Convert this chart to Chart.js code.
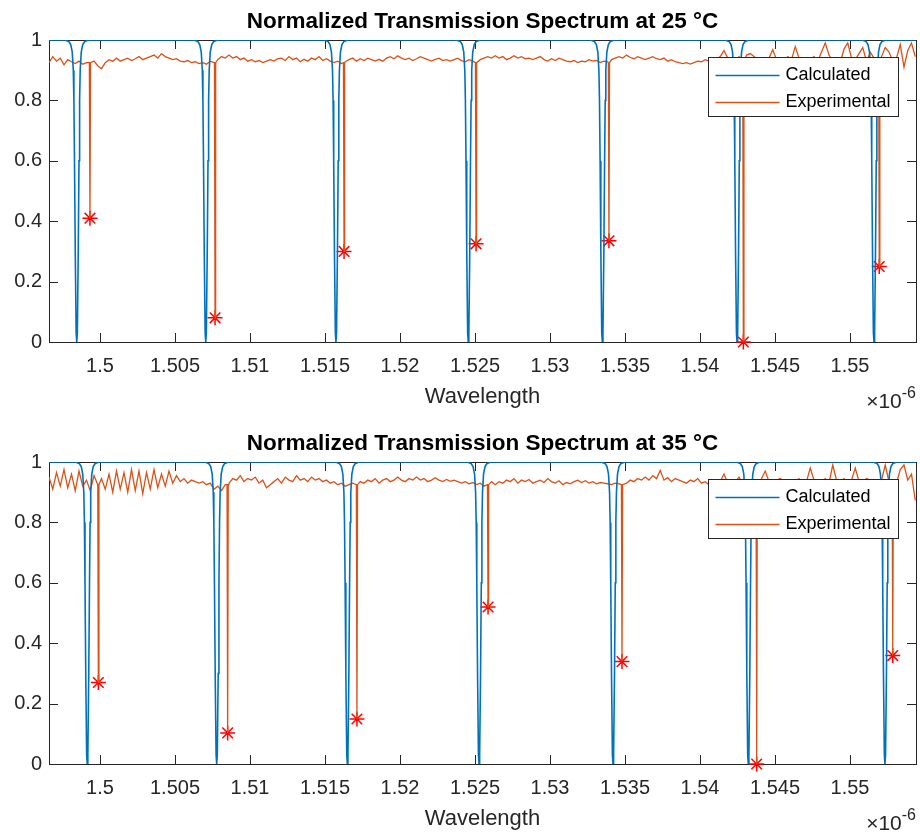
<!DOCTYPE html>
<html>
<head>
<meta charset="utf-8">
<script src="https://cdn.jsdelivr.net/npm/chart.js@4.4.1/dist/chart.umd.min.js"></script>
<style>
  html, body { margin: 0; padding: 0; background: #fff; overflow: hidden; }
  .panel { position: absolute; left: 0; width: 920px; height: 420px; }
</style>
</head>
<body>
<div class="panel" style="top:0"><canvas id="c25" width="920" height="420"></canvas></div>
<div class="panel" style="top:422px"><canvas id="c35" width="920" height="420"></canvas></div>
<script>
// WAVELENGTH AXIS (values in units of 1e-6 m)
let wlMin = 1.4966;
let wlMax = 1.5544;
let wlStep = 0.00025; // sampling step of the measured spectra
let xTicks = [1.5, 1.505, 1.51, 1.515, 1.52, 1.525, 1.53, 1.535, 1.54, 1.545, 1.55];
let yTicks = [0, 0.2, 0.4, 0.6, 0.8, 1];

// calculated resonance shape: offset from dip centre and transmission
let profileOffset = [-0.0008, -0.00053, -0.0004, -0.0003, -0.00023, -0.00019, -0.00015, -0.0001, -0.00004, 0,
    0.00004, 0.0001, 0.00015, 0.00019, 0.00023, 0.0003, 0.0004, 0.00053, 0.0008];
let profileValue = [1, 0.995, 0.985, 0.96, 0.9, 0.8, 0.6, 0.3, 0.03, 0,
    0.03, 0.3, 0.6, 0.8, 0.9, 0.96, 0.985, 0.995, 1];
let dipShoulder = 0.925;

// 25 °C
let calcDips25 = [1.49845, 1.50705, 1.51573, 1.52455, 1.53349, 1.54247, 1.5516];
let expDips25 = [1.49933, 1.50767, 1.51627, 1.52507, 1.53393, 1.54289, 1.55195];
let expMin25 = [0.41, 0.08, 0.30, 0.325, 0.335, 0.0, 0.25];
let expBase25 = [
    0.925, 0.945, 0.93, 0.94, 0.918, 0.935, 0.928, 0.922, 0.93, 0.92,
    0.925, 0.935, 0.93, 0.915, 0.905, 0.925, 0.935, 0.93, 0.94, 0.93,
    0.935, 0.94, 0.932, 0.938, 0.945, 0.935, 0.94, 0.945, 0.95, 0.94,
    0.955, 0.945, 0.94, 0.935, 0.938, 0.93, 0.928, 0.932, 0.925, 0.928,
    0.922, 0.925, 0.92, 0.93, 0.925, 0.935, 0.945, 0.94, 0.95, 0.94,
    0.945, 0.935, 0.94, 0.93, 0.935, 0.928, 0.932, 0.925, 0.93, 0.935,
    0.93, 0.938, 0.94, 0.932, 0.945, 0.935, 0.94, 0.928, 0.936, 0.93,
    0.94, 0.935, 0.945, 0.932, 0.938, 0.93, 0.925, 0.93, 0.922, 0.928,
    0.935, 0.94, 0.93, 0.938, 0.932, 0.94, 0.935, 0.93, 0.936, 0.93,
    0.94, 0.945, 0.938, 0.948, 0.94, 0.935, 0.94, 0.932, 0.938, 0.945,
    0.94, 0.935, 0.93, 0.936, 0.94, 0.932, 0.935, 0.93, 0.935, 0.94,
    0.932, 0.928, 0.935, 0.93, 0.925, 0.935, 0.94, 0.945, 0.94, 0.948,
    0.94, 0.945, 0.935, 0.94, 0.948, 0.94, 0.945, 0.938, 0.94, 0.935,
    0.94, 0.945, 0.935, 0.93, 0.938, 0.932, 0.94, 0.935, 0.93, 0.928,
    0.932, 0.925, 0.93, 0.928, 0.935, 0.93, 0.932, 0.925, 0.93, 0.928,
    0.935, 0.94, 0.945, 0.94, 0.95, 0.942, 0.938, 0.945, 0.94, 0.935,
    0.94, 0.945, 0.938, 0.935, 0.94, 0.93, 0.935, 0.928, 0.925, 0.922,
    0.925, 0.92, 0.925, 0.93, 0.928, 0.935, 0.93, 0.94, 0.935, 0.945,
    0.965, 0.94, 0.935, 0.93, 0.945, 0.93, 0.95, 0.955, 0.945, 0.935,
    0.93, 0.925, 0.94, 0.968, 0.935, 0.925, 0.93, 0.945, 0.935, 0.978,
    0.94, 0.93, 0.925, 0.935, 0.945, 0.93, 0.96, 0.99, 0.95, 0.93,
    0.94, 0.925, 0.97, 0.99, 0.94, 0.935, 0.955, 0.975, 0.93, 0.96,
    0.94, 0.93, 0.945, 0.975, 0.96, 0.93, 0.94, 0.985, 0.91, 0.965,
    0.99, 0.945
];

// 35 °C
let calcDips35 = [1.49915, 1.50778, 1.51649, 1.52527, 1.5342, 1.54322, 1.55233];
let expDips35 = [1.49989, 1.50851, 1.51713, 1.52587, 1.5348, 1.54378, 1.55285];
let expMin35 = [0.27, 0.103, 0.149, 0.52, 0.339, 0.0, 0.359];
let expBase35 = [
    0.95, 0.91, 0.965, 0.92, 0.975, 0.915, 0.96, 0.905, 0.97, 0.92,
    0.94, 0.905, 0.955, 0.9, 0.945, 0.91, 0.96, 0.9, 0.97, 0.91,
    0.965, 0.9, 0.975, 0.905, 0.97, 0.895, 0.965, 0.91, 0.975, 0.915,
    0.96, 0.92, 0.97, 0.93, 0.955, 0.935, 0.945, 0.93, 0.94, 0.935,
    0.93, 0.935, 0.925, 0.93, 0.91, 0.92, 0.905, 0.925, 0.93, 0.945,
    0.94, 0.955, 0.935, 0.945, 0.94, 0.95, 0.93, 0.94, 0.915, 0.925,
    0.935, 0.945, 0.93, 0.95, 0.94, 0.935, 0.955, 0.94, 0.945, 0.935,
    0.95, 0.94, 0.945, 0.935, 0.94, 0.93, 0.935, 0.925, 0.93, 0.92,
    0.925, 0.93, 0.92, 0.935, 0.93, 0.94, 0.935, 0.945, 0.93, 0.94,
    0.945, 0.935, 0.94, 0.95, 0.94, 0.935, 0.945, 0.94, 0.95, 0.94,
    0.945, 0.935, 0.94, 0.948, 0.94, 0.935, 0.942, 0.936, 0.94, 0.935,
    0.93, 0.935, 0.928, 0.932, 0.925, 0.93, 0.92, 0.93, 0.935, 0.925,
    0.935, 0.93, 0.94, 0.935, 0.945, 0.93, 0.94, 0.935, 0.942, 0.93,
    0.935, 0.94, 0.932, 0.945, 0.935, 0.93, 0.938, 0.925, 0.932, 0.928,
    0.935, 0.94, 0.932, 0.938, 0.93, 0.935, 0.928, 0.932, 0.93, 0.928,
    0.925, 0.93, 0.928, 0.935, 0.93, 0.94, 0.935, 0.945, 0.94, 0.95,
    0.94, 0.955, 0.945, 0.972, 0.94, 0.948, 0.935, 0.945, 0.94, 0.935,
    0.93, 0.94, 0.935, 0.945, 0.93, 0.935, 0.925, 0.93, 0.94, 0.935,
    0.96, 0.93, 0.94, 0.935, 0.95, 0.925, 0.93, 0.94, 0.935, 0.93,
    0.945, 0.97, 0.935, 0.93, 0.94, 0.945, 0.935, 0.93, 0.94, 0.935,
    0.945, 0.93, 0.935, 0.98, 0.94, 0.925, 0.935, 0.945, 0.93, 0.99,
    0.94, 0.935, 0.945, 0.93, 0.94, 0.98, 0.935, 0.93, 0.945, 0.94,
    0.935, 0.93, 0.94, 0.99, 0.935, 0.95, 0.93, 0.975, 0.99, 0.94,
    0.96, 0.873
];

let blue = "#0072BD";
let orange = "#D95319";
let axisColor = "#262626";
let fontFamily = "'Liberation Sans', Arial, Helvetica, sans-serif";

function calcSeries(centres) {
    let pts = [{ x: wlMin, y: 1 }];
    centres.forEach(c => {
        profileOffset.forEach((o, k) => pts.push({ x: c + o, y: profileValue[k] }));
    });
    pts.push({ x: wlMax, y: 1 });
    return pts;
}

function expSeries(base, dips, mins) {
    let pts = [];
    base.forEach((y, i) => {
        let x = wlMin + i * wlStep;
        if (!dips.some(c => Math.abs(c - x) < 0.00006)) pts.push({ x: x, y: y });
    });
    dips.forEach((c, k) => {
        pts.push({ x: c - 0.00004, y: dipShoulder }, { x: c, y: mins[k] }, { x: c + 0.00004, y: dipShoulder });
    });
    return pts.sort((a, b) => a.x - b.x);
}

// MATLAB look: box, inward ticks, legend box inside, exponent label
let matlabAxes = {
    id: "matlabAxes",
    beforeDatasetsDraw(chart) {
        let ctx = chart.ctx, a = chart.chartArea;
        let sx = chart.scales.x, sy = chart.scales.y;
        ctx.save();
        ctx.strokeStyle = axisColor;
        ctx.lineWidth = 1;
        ctx.beginPath();
        xTicks.forEach(v => {
            let px = Math.round(sx.getPixelForValue(v)) + 0.5;
            ctx.moveTo(px, a.bottom); ctx.lineTo(px, a.bottom - 9);
            ctx.moveTo(px, a.top); ctx.lineTo(px, a.top + 9);
        });
        yTicks.forEach(v => {
            let py = Math.round(sy.getPixelForValue(v)) + 0.5;
            ctx.moveTo(a.left, py); ctx.lineTo(a.left + 9, py);
            ctx.moveTo(a.right, py); ctx.lineTo(a.right - 9, py);
        });
        ctx.stroke();
        ctx.strokeRect(Math.round(a.left) + 0.5, Math.round(a.top) + 0.5,
            Math.round(a.right - a.left), Math.round(a.bottom - a.top));
        ctx.restore();
    },
    afterDraw(chart) {
        let ctx = chart.ctx, a = chart.chartArea;
        ctx.save();
        // legend
        let w = 190, h = 59;
        let lx = Math.round(a.right - 18 - w) + 0.5, ly = Math.round(a.top + 17) + 0.5;
        ctx.fillStyle = "#fff";
        ctx.fillRect(lx, ly, w, h);
        ctx.strokeStyle = axisColor;
        ctx.lineWidth = 1;
        ctx.strokeRect(lx, ly, w, h);
        ctx.font = "18px " + fontFamily;
        ctx.textBaseline = "middle";
        ctx.textAlign = "left";
        [0, 1].forEach(k => {
            let ds = chart.data.datasets[k];
            let ry = ly + 18 + k * 27;
            ctx.strokeStyle = ds.borderColor;
            ctx.lineWidth = ds.borderWidth;
            ctx.beginPath();
            ctx.moveTo(lx + 7, ry); ctx.lineTo(lx + 71, ry);
            ctx.stroke();
            ctx.fillStyle = "#000";
            ctx.fillText(ds.label, lx + 77, ry);
        });
        // exponent label
        ctx.fillStyle = axisColor;
        ctx.textAlign = "right";
        ctx.textBaseline = "alphabetic";
        ctx.font = "16px " + fontFamily;
        ctx.fillText("-6", a.right, a.bottom + 56);
        let ew = ctx.measureText("-6").width;
        ctx.font = "21px " + fontFamily;
        ctx.fillText("\u00d710", a.right - ew, a.bottom + 66);
        ctx.restore();
    }
};

function makeChart(id, titleText, calcDips, expBase, expDips, expMin) {
    new Chart(id, {
        type: "line",
        data: {
            datasets: [
                {
                    label: "Calculated",
                    data: calcSeries(calcDips),
                    borderColor: blue,
                    borderWidth: 1.6,
                    pointRadius: 0,
                    tension: 0,
                },
                {
                    label: "Experimental",
                    data: expSeries(expBase, expDips, expMin),
                    borderColor: orange,
                    borderWidth: 1.3,
                    pointRadius: 0,
                    tension: 0,
                },
                {
                    label: "Minima",
                    data: expDips.map((x, k) => ({ x: x, y: expMin[k] })),
                    showLine: false,
                    pointStyle: "star",
                    pointRadius: 7.5,
                    borderColor: "#FF0000",
                    backgroundColor: "#FF0000",
                    pointBorderWidth: 1.5,
                    clip: false,
                },
            ],
        },
        options: {
            responsive: false,
            animation: false,
            events: [],
            layout: { autoPadding: false, padding: { left: 0, right: 4, top: 0, bottom: 0 } },
            plugins: {
                legend: { display: false },
                tooltip: { enabled: false },
                title: {
                    display: true,
                    text: titleText,
                    fullSize: false,
                    color: "#000",
                    font: { family: fontFamily, size: 22.5, weight: "bold" },
                    padding: { top: 8, bottom: 5 },
                },
            },
            scales: {
                x: {
                    type: "linear",
                    min: wlMin,
                    max: wlMax,
                    afterBuildTicks: s => { s.ticks = xTicks.map(v => ({ value: v })); },
                    afterFit: s => { s.height = 78; },
                    grid: { display: false, drawTicks: false },
                    border: { display: false },
                    ticks: {
                        color: axisColor,
                        font: { family: fontFamily, size: 20 },
                        padding: 12,
                        maxRotation: 0,
                        autoSkip: false,
                        callback: v => String(+v.toFixed(4)),
                    },
                    title: {
                        display: true,
                        text: "Wavelength",
                        color: axisColor,
                        font: { family: fontFamily, size: 22 },
                        padding: { top: 0, bottom: 10 },
                    },
                },
                y: {
                    min: 0,
                    max: 1,
                    afterBuildTicks: s => { s.ticks = yTicks.map(v => ({ value: v })); },
                    afterFit: s => { s.width = 49; },
                    grid: { display: false, drawTicks: false },
                    border: { display: false },
                    ticks: {
                        color: axisColor,
                        font: { family: fontFamily, size: 20 },
                        padding: 7,
                        callback: v => String(+v.toFixed(2)),
                    },
                },
            },
        },
        plugins: [matlabAxes],
    });
}

makeChart("c25", "Normalized Transmission Spectrum at 25 \u00b0C", calcDips25, expBase25, expDips25, expMin25);
makeChart("c35", "Normalized Transmission Spectrum at 35 \u00b0C", calcDips35, expBase35, expDips35, expMin35);
</script>
</body>
</html>
